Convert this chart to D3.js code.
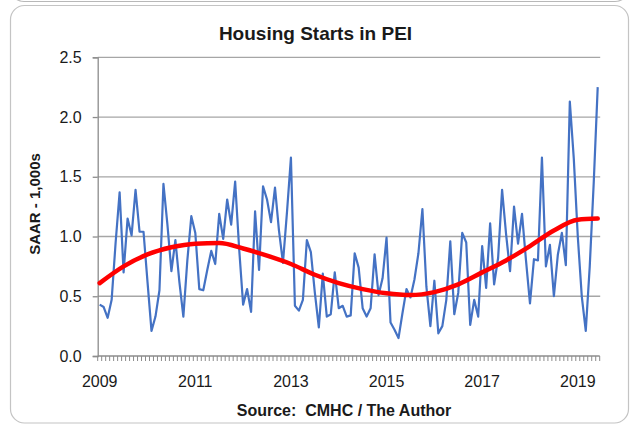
<!DOCTYPE html>
<html lang="en">
<head>
<meta charset="UTF-8">
<title>Housing Starts in PEI</title>
<script src="https://d3js.org/d3.v7.min.js"></script>
<style>
  html, body { margin: 0; padding: 0; background: #fff; }
  svg { display: block; }
  text { font-family: "Liberation Sans", Arial, sans-serif; fill: #1a1a1a; }
</style>
</head>
<body>
<div id="chart"></div>
<script>
// monthly housing starts, SAAR in 1,000s, Jan 2009 .. Jun 2019
var startYear = 2009;
var starts = [
  0.43, 0.41, 0.32, 0.47, 0.95, 1.37, 0.70, 1.15, 1.01, 1.39, 1.04, 1.04,
  0.62, 0.21, 0.33, 0.55, 1.44, 1.10, 0.71, 0.97, 0.62, 0.33, 0.80, 1.17,
  1.03, 0.56, 0.55, 0.72, 0.88, 0.77, 1.19, 0.98, 1.31, 1.10, 1.46, 0.90,
  0.43, 0.56, 0.37, 1.21, 0.72, 1.42, 1.31, 1.12, 1.41, 1.05, 0.78, 1.20,
  1.66, 0.42, 0.38, 0.47, 0.97, 0.87, 0.53, 0.24, 0.69, 0.33, 0.35, 0.70,
  0.40, 0.42, 0.33, 0.34, 0.86, 0.74, 0.40, 0.33, 0.40, 0.85, 0.51, 0.65,
  0.99, 0.28, 0.22, 0.15, 0.36, 0.56, 0.49, 0.64, 0.86, 1.23, 0.58, 0.25,
  0.63, 0.19, 0.25, 0.47, 0.96, 0.35, 0.53, 1.03, 0.95, 0.26, 0.47, 0.33,
  0.92, 0.57, 1.11, 0.60, 0.82, 1.39, 1.02, 0.71, 1.25, 0.94, 1.19, 0.80,
  0.44, 0.81, 0.80, 1.66, 0.75, 0.93, 0.50, 0.85, 1.03, 0.76, 2.13, 1.65,
  1.00, 0.50, 0.21, 0.75, 1.45, 2.25
];

// trend line (month index -> value)
var trendMonths = [0, 6, 12, 18, 24, 30, 36, 42, 48, 54, 60, 66, 72, 78, 84, 90, 96, 102, 108, 114, 120, 125];
var trendValues = [0.61, 0.75, 0.85, 0.91, 0.94, 0.945, 0.90, 0.84, 0.77, 0.68, 0.61, 0.56, 0.525, 0.51, 0.535, 0.60, 0.70, 0.80, 0.92, 1.05, 1.14, 1.15];

var yTicks = [0, 0.5, 1.0, 1.5, 2.0, 2.5];
var labelEvery = 24;

(function () {
    var W = 631, H = 426;
    var plotLeft = 97.7, plotRight = 599.7, plotTop = 57.3, plotBottom = 356;

    var months = d3.range(starts.length);

    var svg = d3.select("#chart").append("svg")
        .attr("width", W)
        .attr("height", H);

    // bottom edge of the chart above, then this chart's frame
    svg.append("rect")
        .attr("x", 10).attr("y", -430).attr("width", 619).attr("height", 431.5)
        .attr("rx", 14).attr("ry", 14)
        .attr("fill", "none").attr("stroke", "#b8b8b8").attr("stroke-width", 1.2);
    svg.append("rect")
        .attr("x", 10.5).attr("y", 5.5).attr("width", 618).attr("height", 417.5)
        .attr("rx", 14).attr("ry", 14)
        .attr("fill", "#fff").attr("stroke", "#c4c4c4").attr("stroke-width", 1.2);

    var x = d3.scaleBand().domain(months).range([plotLeft, plotRight]).padding(0);
    var y = d3.scaleLinear().domain([0, 2.5]).range([plotBottom, plotTop]);
    var cx = function (i) { return x(i) + x.bandwidth() / 2; };

    // gridlines
    svg.append("g")
        .selectAll("line")
        .data(yTicks.filter(function (d) { return d > 0; }))
        .enter().append("line")
        .attr("x1", plotLeft).attr("x2", plotRight + 0.5)
        .attr("y1", function (d) { return y(d); })
        .attr("y2", function (d) { return y(d); })
        .attr("stroke", "#a6a6a6").attr("stroke-width", 1.3);

    // y axis
    var yAxis = svg.append("g")
        .attr("transform", "translate(" + plotLeft + ",0)")
        .call(d3.axisLeft(y).tickValues(yTicks).tickSize(5).tickPadding(11)
            .tickFormat(d3.format(".1f")));
    yAxis.select(".domain").attr("stroke", "#8c8c8c").attr("stroke-width", 1.3);
    yAxis.selectAll(".tick line").attr("stroke", "#8c8c8c").attr("stroke-width", 1.3);
    yAxis.selectAll(".tick text")
        .attr("font-size", 16)
        .attr("font-family", "Liberation Sans, Arial, sans-serif")
        .attr("fill", "#1a1a1a");

    // x axis: a tick per month, a label every two years
    var xAxis = svg.append("g")
        .attr("transform", "translate(0," + plotBottom + ")");
    xAxis.append("line")
        .attr("x1", plotLeft).attr("x2", plotRight)
        .attr("stroke", "#8c8c8c").attr("stroke-width", 1.3);
    xAxis.selectAll("line.mtick")
        .data(months.concat([starts.length]))
        .enter().append("line")
        .attr("class", "mtick")
        .attr("x1", function (i) { return i < starts.length ? x(i) : plotRight; })
        .attr("x2", function (i) { return i < starts.length ? x(i) : plotRight; })
        .attr("y1", 0).attr("y2", 5)
        .attr("stroke", "#8c8c8c").attr("stroke-width", 1);
    xAxis.selectAll("text")
        .data(months.filter(function (i) { return i % labelEvery === 0; }))
        .enter().append("text")
        .attr("x", function (i) { return cx(i); })
        .attr("y", 30.5)
        .attr("text-anchor", "middle")
        .attr("font-size", 16)
        .text(function (i) { return startYear + i / 12; });

    // monthly series
    var line = d3.line()
        .x(function (d, i) { return cx(i); })
        .y(function (d) { return y(d); });
    svg.append("path")
        .datum(starts)
        .attr("d", line)
        .attr("fill", "none")
        .attr("stroke", "#4472c4")
        .attr("stroke-width", 2.2)
        .attr("stroke-linejoin", "round");

    // trend
    var trend = d3.line()
        .x(function (d) { return cx(d[0]); })
        .y(function (d) { return y(d[1]); })
        .curve(d3.curveMonotoneX);
    svg.append("path")
        .datum(d3.zip(trendMonths, trendValues))
        .attr("d", trend)
        .attr("fill", "none")
        .attr("stroke", "#ff0000")
        .attr("stroke-width", 4.5)
        .attr("stroke-linecap", "round");

    // titles
    svg.append("text")
        .attr("x", 315.5).attr("y", 40)
        .attr("text-anchor", "middle")
        .attr("font-size", 19)
        .attr("font-weight", "bold")
        .text("Housing Starts in PEI");

    svg.append("text")
        .attr("transform", "translate(40,204) rotate(-90)")
        .attr("text-anchor", "middle")
        .attr("font-size", 15)
        .attr("font-weight", "bold")
        .text("SAAR - 1,000s");

    svg.append("text")
        .attr("x", 344).attr("y", 415.5)
        .attr("text-anchor", "middle")
        .attr("font-size", 16)
        .attr("font-weight", "bold")
        .attr("xml:space", "preserve")
        .text("Source:  CMHC / The Author");
})();
</script>
</body>
</html>
